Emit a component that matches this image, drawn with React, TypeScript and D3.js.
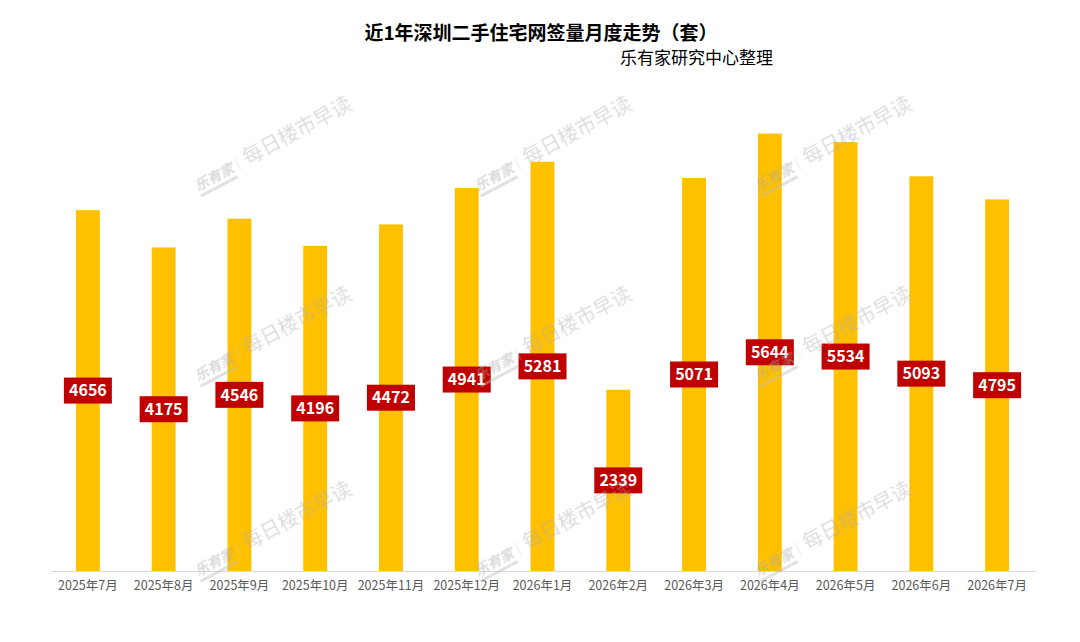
import { useEffect, useRef } from 'react'
import * as d3 from 'd3'

const months = [
  '2025年7月', '2025年8月', '2025年9月', '2025年10月', '2025年11月', '2025年12月',
  '2026年1月', '2026年2月', '2026年3月', '2026年4月', '2026年5月', '2026年6月', '2026年7月',
]
const sales = [4656, 4175, 4546, 4196, 4472, 4941, 5281, 2339, 5071, 5644, 5534, 5093, 4795]

// watermark centres (page coords)
const markX = [272, 552, 832]
const markY = [143, 333, 528]

const FONT = '"Noto Sans CJK SC", "Microsoft YaHei", sans-serif'

export default function App() {
  const svgRef = useRef<SVGSVGElement>(null)

  useEffect(() => {
    document.body.style.margin = '0'
    if (!svgRef.current) return
    const width = 1080
    const height = 642
    const margin = { top: 106, right: 45, bottom: 71, left: 50 }
    const innerW = width - margin.left - margin.right
    const innerH = height - margin.top - margin.bottom

    const svg = d3.select(svgRef.current)
    svg.selectAll('*').remove()
    svg.attr('width', width).attr('height', height)

    svg.append('rect').attr('width', width).attr('height', height).attr('fill', '#ffffff')

    // Titles
    svg.append('text')
      .attr('x', 541)
      .attr('y', 40)
      .attr('text-anchor', 'middle')
      .attr('font-family', FONT)
      .attr('font-weight', 'bold')
      .attr('font-size', '19px')
      .attr('fill', '#000')
      .text('近1年深圳二手住宅网签量月度走势（套）')

    svg.append('text')
      .attr('x', 773)
      .attr('y', 64)
      .attr('text-anchor', 'end')
      .attr('font-family', FONT)
      .attr('font-size', '17px')
      .attr('fill', '#000')
      .text('乐有家研究中心整理')

    const g = svg.append('g').attr('transform', `translate(${margin.left},${margin.top})`)

    const x = d3.scaleBand().domain(months).range([0, innerW]).paddingInner(0.685).paddingOuter(0.3425)
    const y = d3.scaleLinear().domain([0, 6000]).range([innerH, 0])

    // Bars
    g.selectAll('rect.bar')
      .data(sales)
      .enter().append('rect')
      .attr('class', 'bar')
      .attr('x', (_, i) => x(months[i]) ?? 0)
      .attr('y', d => y(d))
      .attr('width', x.bandwidth())
      .attr('height', d => innerH - y(d))
      .attr('fill', '#FFC000')

    // Axis
    g.append('g')
      .attr('transform', `translate(0,${innerH})`)
      .call(d3.axisBottom(x).tickSize(0).tickPadding(10))
      .call(ax => ax.select('.domain').attr('stroke', '#d9d9d9').attr('stroke-width', 1))
      .call(ax => ax.selectAll('.tick text')
        .attr('fill', '#595959')
        .attr('font-size', '12.5px')
        .attr('font-family', FONT))

    // Data labels
    const labels = g.selectAll('g.lbl')
      .data(sales)
      .enter().append('g')
      .attr('class', 'lbl')
      .attr('transform', (d, i) => `translate(${(x(months[i]) ?? 0) + x.bandwidth() / 2},${(y(d) + innerH) / 2})`)

    labels.append('rect')
      .attr('x', -24)
      .attr('y', -13)
      .attr('width', 48)
      .attr('height', 26)
      .attr('fill', '#C00000')

    labels.append('text')
      .attr('text-anchor', 'middle')
      .attr('dy', '0.36em')
      .attr('fill', '#fff')
      .attr('font-weight', 'bold')
      .attr('font-size', '16px')
      .attr('font-family', FONT)
      .text(d => d)

    // Watermarks
    const marks = svg.append('g').attr('opacity', 0.45)
    markY.forEach(my => {
      markX.forEach(mx => {
        const w = marks.append('g').attr('transform', `translate(${mx},${my}) rotate(-28)`)
        w.append('text')
          .attr('x', -88)
          .attr('y', 8)
          .attr('font-family', FONT)
          .attr('font-weight', 'bold')
          .attr('font-style', 'italic')
          .attr('font-size', '14px')
          .attr('fill', '#aaaaaa')
          .text('乐有家')
        w.append('rect')
          .attr('x', -88)
          .attr('y', 12)
          .attr('width', 42)
          .attr('height', 3)
          .attr('fill', '#bbbbbb')
        w.append('line')
          .attr('x1', -40).attr('x2', -40)
          .attr('y1', -5).attr('y2', 9)
          .attr('stroke', '#d0d0d0')
          .attr('stroke-width', 1)
        w.append('text')
          .attr('x', -32)
          .attr('y', 8)
          .attr('font-family', FONT)
          .attr('font-size', '20px')
          .attr('fill', '#b0b0b0')
          .text('每日楼市早读')
      })
    })
  }, [])

  return <svg ref={svgRef} style={{ display: 'block' }} />
}
